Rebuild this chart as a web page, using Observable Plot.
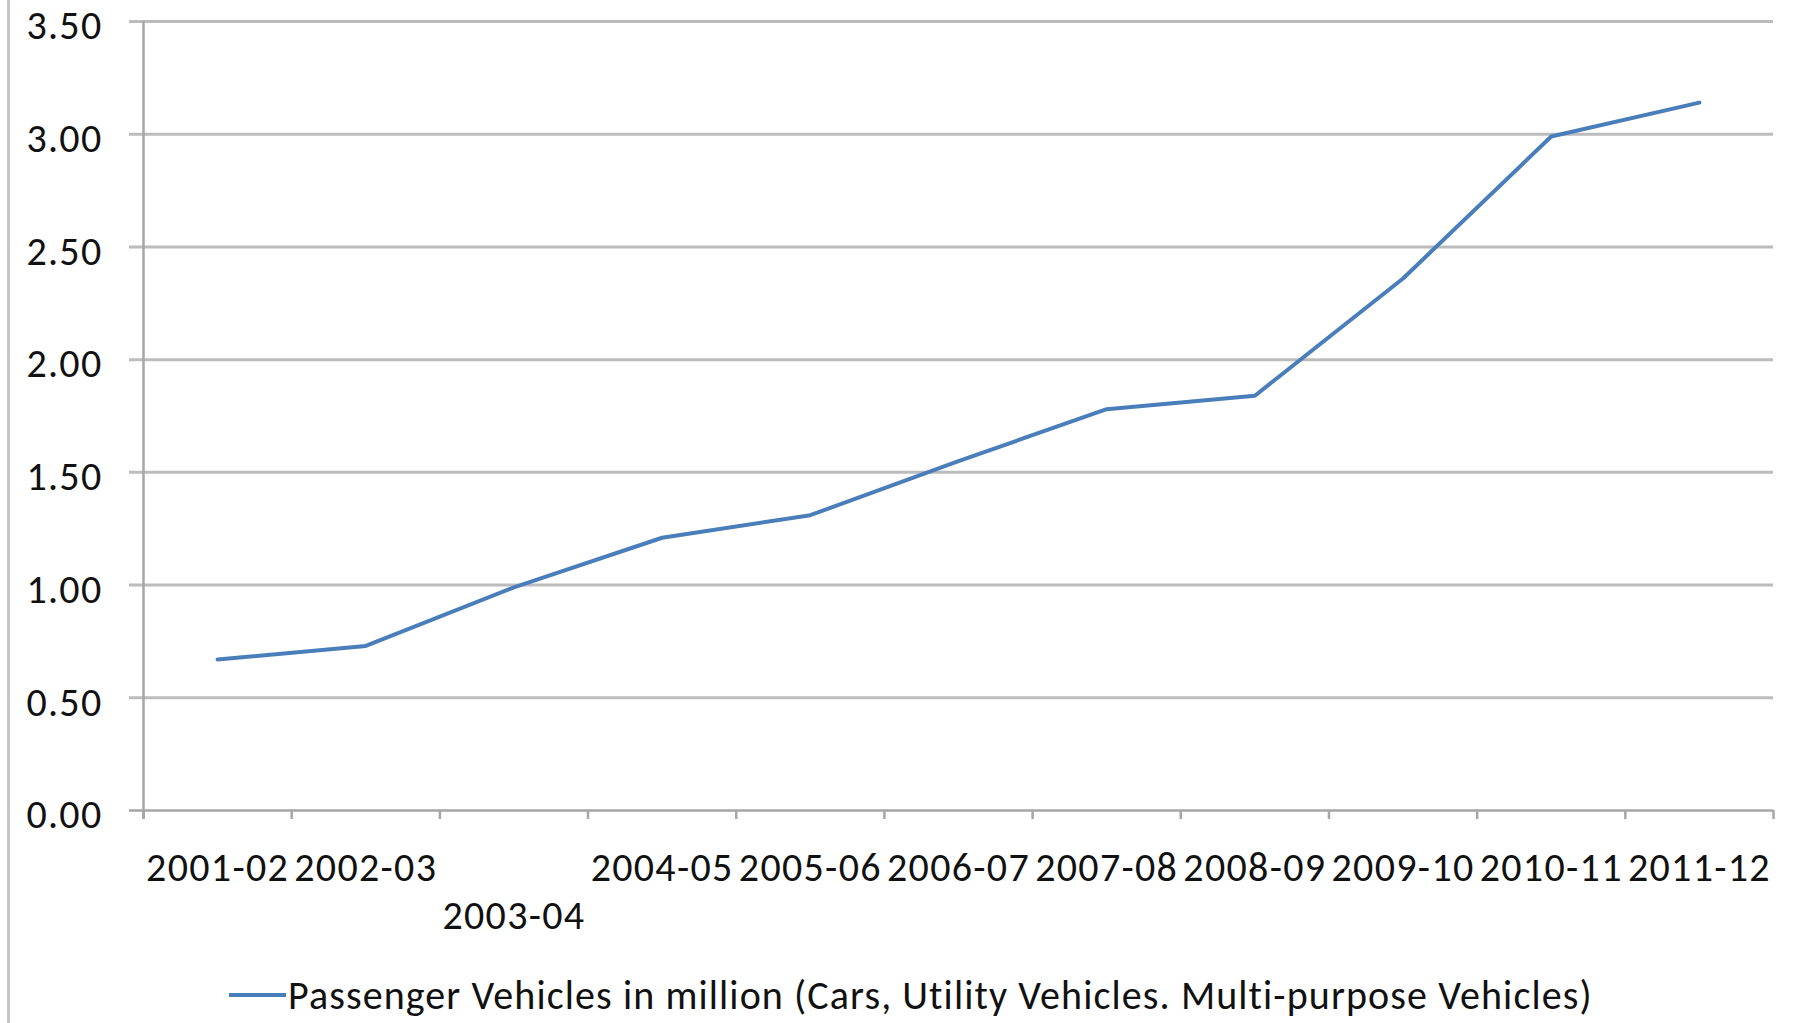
<!DOCTYPE html>
<html>
<head>
<meta charset="utf-8">
<script src="https://cdn.jsdelivr.net/npm/d3@7"></script>
<script src="https://cdn.jsdelivr.net/npm/@observablehq/plot@0.6"></script>
<style>
  html, body { margin: 0; padding: 0; background: #fff; }
  body { position: relative; width: 1794px; height: 1023px; overflow: hidden;
         font-family: Carlito, Calibri, Lato, "Liberation Sans", sans-serif; }
  #frame { position: absolute; left: 7px; top: 0; width: 3px; height: 1023px; background: #c6c6c6; }
  #legend { height: 63px; padding-top: 27px; display: flex; align-items: flex-start; }
  #legend .item { display: flex; align-items: center; height: 36px; margin-left: 229px; font-size: 40px; letter-spacing: 1.1px; color: #111; white-space: nowrap; }
  #legend .swatch { width: 57px; height: 4px; background: #4a7ebb; margin-right: 2px; }
</style>
</head>
<body>
<div id="frame"></div>
<div id="chart"></div>
<div id="legend"></div>
<script>
const years = ["2001-02","2002-03","2003-04","2004-05","2005-06","2006-07","2007-08","2008-09","2009-10","2010-11","2011-12"];
const passengerVehicles = [0.67, 0.73, 0.99, 1.21, 1.31, 1.55, 1.78, 1.84, 2.36, 2.99, 3.14];
const yTicks = [0, 0.5, 1, 1.5, 2, 2.5, 3, 3.5];
const seriesName = "Passenger Vehicles in million (Cars, Utility Vehicles. Multi-purpose Vehicles)";

const data = years.map((year, i) => ({year, i, value: passengerVehicles[i]}));
const boundaries = d3.range(years.length + 1);
const staggered = new Set(["2003-04"]);

const fontFamily = "Carlito, Calibri, Lato, 'Liberation Sans', sans-serif";
const labelColor = "#111";
const fs = 40;

const chart = Plot.plot({
  width: 1794,
  height: 950,
  marginLeft: 143,
  marginRight: 21,
  marginTop: 21,
  marginBottom: 140,
  style: {fontFamily, fontSize: fs + "px", color: labelColor, background: "#fff", letterSpacing: "1.3px"},
  x: {type: "linear", domain: [0, years.length], axis: null},
  y: {type: "linear", domain: [0, 3.5], axis: null},
  marks: [
    // horizontal gridlines, extending left past the axis as outward ticks
    Plot.ruleY(yTicks.filter(d => d > 0), {y: d => d, stroke: "#bcbcbc", strokeWidth: 3, insetLeft: -14}),
    // y-axis tick labels
    Plot.text(yTicks, {x: () => 0, y: d => d, text: d => d3.format(".2f")(d), textAnchor: "end", dx: -41, dy: 5, fill: labelColor, fontSize: fs}),
    // y axis line
    Plot.ruleX([0], {x: d => d, stroke: "#a6a6a6", strokeWidth: 2.5, insetBottom: -9}),
    // x axis line
    Plot.ruleY([0], {y: d => d, stroke: "#a6a6a6", strokeWidth: 2.5, insetLeft: -14}),
    // x ticks at category boundaries
    Plot.ruleX(boundaries, {x: d => d, y1: () => 0, y2: () => 0, insetBottom: -9, stroke: "#a6a6a6", strokeWidth: 2.5}),
    // series line
    Plot.line(data, {x: d => d.i + 0.5, y: "value", stroke: "#4a7ebb", strokeWidth: 4, strokeLinejoin: "round"}),
    // x category labels (Excel staggers 2003-04 onto a second row)
    Plot.text(data.filter(d => !staggered.has(d.year)), {x: d => d.i + 0.5, y: () => 0, text: "year", fill: labelColor, fontSize: fs, dy: 58}),
    Plot.text(data.filter(d => staggered.has(d.year)), {x: d => d.i + 0.5, y: () => 0, text: "year", fill: labelColor, fontSize: fs, dy: 106})
  ]
});
document.getElementById("chart").appendChild(chart);

const legend = document.getElementById("legend");
const item = document.createElement("div");
item.className = "item";
const sw = document.createElement("span");
sw.className = "swatch";
const lab = document.createElement("span");
lab.textContent = seriesName;
item.appendChild(sw);
item.appendChild(lab);
legend.appendChild(item);
</script>
</body>
</html>
